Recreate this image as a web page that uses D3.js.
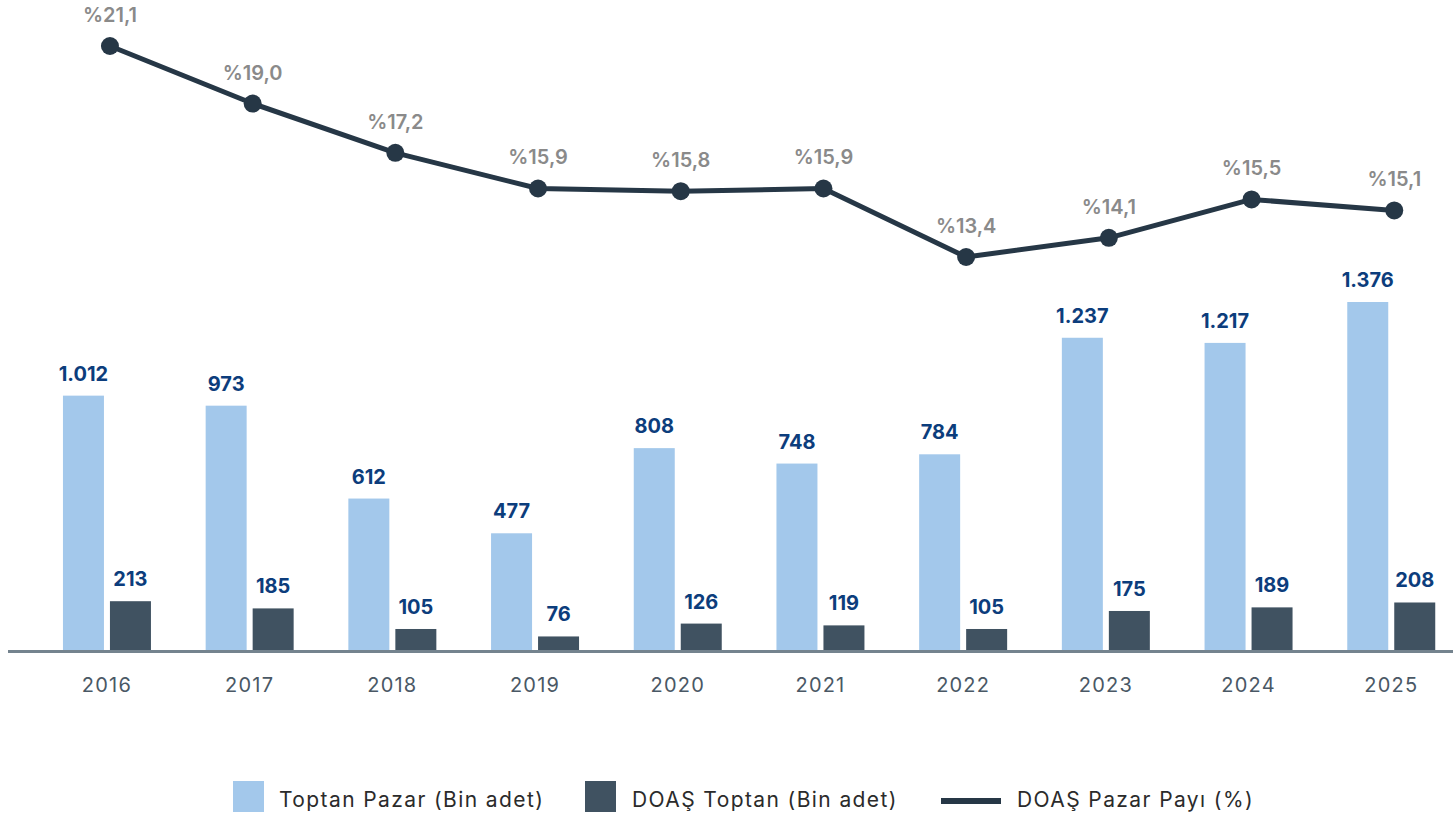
<!DOCTYPE html>
<html lang="tr">
<head>
<meta charset="utf-8">
<title>Toptan Pazar</title>
<script src="https://cdnjs.cloudflare.com/ajax/libs/d3/7.8.5/d3.min.js"></script>
<style>
  body { margin: 0; background: #fff; }
  svg { display: block; font-family: Inter, "Open Sans", sans-serif; }
</style>
</head>
<body>
<script>
// data
var years = ['2016','2017','2018','2019','2020','2021','2022','2023','2024','2025'];
var market = [1012, 973, 612, 477, 808, 748, 784, 1237, 1217, 1376];
var doas = [213, 185, 105, 76, 126, 119, 105, 175, 189, 208];
var share = [21.1, 19.0, 17.2, 15.9, 15.8, 15.9, 13.4, 14.1, 15.5, 15.1];

var w = 1453, h = 819;
var base = 651;

var fmtInt = function(v){ return d3.format(',')(v).replace(/,/g, '.'); };
var fmtPct = function(v){ return '%' + v.toFixed(1).replace('.', ','); };

var svg = d3.select('body').append('svg')
  .attr('width', w).attr('height', h);

var x = d3.scaleBand()
  .domain(years)
  .range([35.6, 1462.6])
  .paddingInner(0);

// two bars of 41px with a 6px gap inside each year band
var sub = d3.scaleBand()
  .domain(['m','d'])
  .range([0, x.bandwidth()])
  .paddingInner(0.1277)
  .paddingOuter(0.582);

// bars start a little below the axis line, which covers their foot
var y = d3.scaleLinear()
  .domain([0, 1376])
  .range([656, 302]);

var yl = d3.scaleLinear()
  .domain([13.4, 21.1])
  .range([257, 46]);

// bars
var groups = svg.append('g').selectAll('g')
  .data(years).enter().append('g')
  .attr('transform', function(d){ return 'translate(' + x(d) + ',0)'; });

groups.append('rect')
  .attr('x', sub('m'))
  .attr('width', sub.bandwidth())
  .attr('y', function(d,i){ return y(market[i]); })
  .attr('height', function(d,i){ return y(0) - y(market[i]); })
  .attr('fill', '#a3c8eb');

groups.append('rect')
  .attr('x', sub('d'))
  .attr('width', sub.bandwidth())
  .attr('y', function(d,i){ return y(doas[i]); })
  .attr('height', function(d,i){ return y(0) - y(doas[i]); })
  .attr('fill', '#405261');

groups.append('text')
  .attr('x', sub('m') + sub.bandwidth() / 2)
  .attr('y', function(d,i){ return y(market[i]) - 15; })
  .attr('text-anchor', 'middle')
  .attr('font-size', 20).attr('font-weight', 700)
  .attr('fill', '#0c3d7c')
  .text(function(d,i){ return fmtInt(market[i]); });

groups.append('text')
  .attr('x', sub('d') + sub.bandwidth() / 2)
  .attr('y', function(d,i){ return y(doas[i]) - 15; })
  .attr('text-anchor', 'middle')
  .attr('font-size', 20).attr('font-weight', 700)
  .attr('fill', '#0c3d7c')
  .text(function(d,i){ return fmtInt(doas[i]); });

// axis
var xAxis = svg.append('g')
  .attr('transform', 'translate(0,' + base + ')')
  .call(d3.axisBottom(x).tickSize(0).tickPadding(27));
xAxis.select('.domain').remove();
xAxis.append('rect')
  .attr('x', 8).attr('width', w - 8)
  .attr('y', -1).attr('height', 6)
  .attr('fill', '#fff');
xAxis.append('line')
  .attr('x1', 8).attr('x2', w)
  .attr('y1', 0.5).attr('y2', 0.5)
  .attr('stroke', '#74838e').attr('stroke-width', 3);
xAxis.selectAll('.tick text')
  .attr('font-size', 20)
  .attr('letter-spacing', '1.2')
  .attr('font-family', 'Inter, sans-serif')
  .attr('fill', '#4a5865');

// share line
var lx = function(d,i){ return x(years[i]) + sub('d'); };
var line = d3.line()
  .x(function(d,i){ return lx(d,i); })
  .y(function(d){ return yl(d); });

svg.append('path')
  .datum(share)
  .attr('d', line)
  .attr('fill', 'none')
  .attr('stroke', '#263746')
  .attr('stroke-width', 5)
  .attr('stroke-linejoin', 'round');

svg.append('g').selectAll('circle')
  .data(share).enter().append('circle')
  .attr('cx', lx)
  .attr('cy', function(d){ return yl(d); })
  .attr('r', 9)
  .attr('fill', '#263746');

svg.append('g').selectAll('text')
  .data(share).enter().append('text')
  .attr('x', lx)
  .attr('y', function(d){ return yl(d) - 24; })
  .attr('text-anchor', 'middle')
  .attr('font-size', 20).attr('font-weight', 600)
  .attr('fill', '#8a8a8a')
  .text(fmtPct);

// legend
var legend = svg.append('g')
  .attr('font-size', 21).attr('letter-spacing', '1.4').attr('fill', '#2b2b2b');
legend.append('rect').attr('x', 233).attr('y', 781).attr('width', 31).attr('height', 31).attr('fill', '#a3c8eb');
legend.append('text').attr('x', 279).attr('y', 807).text('Toptan Pazar (Bin adet)');
legend.append('rect').attr('x', 585).attr('y', 781).attr('width', 31).attr('height', 31).attr('fill', '#405261');
legend.append('text').attr('x', 632).attr('y', 807).text('DOAŞ Toptan (Bin adet)');
legend.append('line').attr('x1', 941).attr('x2', 1001).attr('y1', 801).attr('y2', 801).attr('stroke', '#263746').attr('stroke-width', 6);
legend.append('text').attr('x', 1017).attr('y', 807).text('DOAŞ Pazar Payı (%)');
</script>
</body>
</html>
